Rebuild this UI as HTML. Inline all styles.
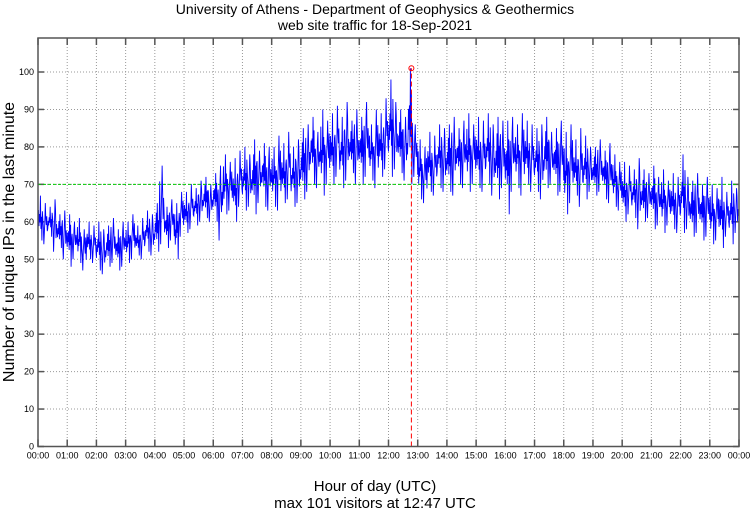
<!DOCTYPE html>
<html><head><meta charset="utf-8"><style>
body{margin:0;background:#fff;}
svg text{font-family:"Liberation Sans",sans-serif;}
</style></head><body>
<svg id="chart" width="750" height="511" viewBox="0 0 750 511">
<text x="375" y="14" font-size="14" text-anchor="middle">University of Athens - Department of Geophysics &amp; Geothermics</text>
<text x="375" y="30" font-size="14" text-anchor="middle">web site traffic for 18-Sep-2021</text>
<text x="375" y="491" font-size="15" text-anchor="middle">Hour of day (UTC)</text>
<text x="375" y="508" font-size="15" text-anchor="middle">max 101 visitors at 12:47 UTC</text>
<text transform="translate(14,242) rotate(-90)" font-size="16" text-anchor="middle">Number of unique IPs in the last minute</text>
<g id="grid"></g><g id="series"></g>
</svg>
<script>
const yTicks=[0,10,20,30,40,50,60,70,80,90,100];
const xTickLabels=["00:00","01:00","02:00","03:00","04:00","05:00","06:00","07:00","08:00","09:00","10:00","11:00","12:00","13:00","14:00","15:00","16:00","17:00","18:00","19:00","20:00","21:00","22:00","23:00","00:00"];
const hiVals=[67,65,64,66,62,63, 62,60,61,58,60,59, 60,58,59,61,58,60, 60,62,59,61,63,62, 65,75,64,66,65,68, 68,70,69,71,72,70, 73,75,78,76,77,79, 80,78,82,79,81,80, 80,83,81,84,80,82, 85,86,88,84,90,87, 89,91,88,92,87,90, 88,92,86,90,89,93, 98,92,90,88,101,86, 82,80,84,83,86,85, 86,88,85,87,89,86, 88,87,89,86,88,87, 87,88,86,89,87,86, 85,86,88,84,85,87, 84,86,82,85,83,80, 80,82,79,81,78,76, 76,75,74,77,74,73, 75,72,74,71,73,72, 78,72,71,73,70,72, 70,69,72,68,71,69];
const loVals=[55,54,56,52,53,50, 48,50,49,47,50,49, 47,46,48,49,47,48, 49,50,51,50,52,51, 52,54,53,55,50,56, 57,58,59,60,61,60, 60,55,62,63,60,64, 63,64,62,65,64,63, 64,63,65,66,64,65, 66,68,70,69,67,70, 70,72,69,71,73,70, 70,72,71,69,72,74, 72,74,73,71,70,72, 66,65,68,67,69,68, 68,67,70,69,68,70, 69,68,70,67,66,69, 62,68,69,67,70,68, 68,66,69,70,67,68, 62,65,67,64,66,68, 67,68,66,65,64,63, 60,62,61,58,60,61, 58,59,57,59,58,57, 57,58,56,57,55,56, 54,55,53,56,54,57];
const refLevel=70;
const maxValue=101, maxMinute=12*60+47;
const X0=38,X1=739,Y0=446.5,YT=38;
const xs=m=>X0+(X1-X0)*m/1440;
const ys=v=>Y0-v*3.745;
const NS="http://www.w3.org/2000/svg";
function mk(tag,attrs,parent){const e=document.createElementNS(NS,tag);for(const k in attrs)e.setAttribute(k,attrs[k]);parent.appendChild(e);return e;}
const grid=document.getElementById('grid'),ser=document.getElementById('series');
yTicks.forEach(v=>{const y=ys(v);
 if(v>0){const l=mk('line',{x1:X0,x2:X1,y1:y,y2:y,stroke:'#999','stroke-dasharray':'1,2','stroke-width':1},grid);
 
 }
 mk('line',{x1:X0,x2:X0+6,y1:y,y2:y,stroke:'#555','stroke-width':1.5},grid);
 mk('line',{x1:X1-6,x2:X1,y1:y,y2:y,stroke:'#555','stroke-width':1.5},grid);
 const t=mk('text',{x:X0-4,y:y+3,'font-size':9,'text-anchor':'end'},grid);t.textContent=v;
 
 });
xTickLabels.forEach((s,i)=>{const x=xs(i*60);
 if(i>0&&i<24){const l=mk('line',{x1:x,x2:x,y1:YT,y2:Y0,stroke:'#999','stroke-dasharray':'1,2','stroke-width':1},grid);
 
 }
 mk('line',{x1:x,x2:x,y1:Y0,y2:Y0-7,stroke:'#555','stroke-width':1.5},grid);
 mk('line',{x1:x,x2:x,y1:YT,y2:YT+7,stroke:'#555','stroke-width':1.5},grid);
 const t=mk('text',{x:x,y:Y0+12,'font-size':9,'text-anchor':'middle'},grid);t.textContent=s;
 
 });
// within each 10-minute bucket, the line wanders between that bucket's low and high
const shape=[0.45,0.8,0.2,0.65,0.35,1,0.1,0.55,0.3,0.75];
let pts=[];
hiVals.forEach((h,i)=>{const lo=loVals[i];
 for(let k=0;k<10;k++){const f=shape[(k+i*3)%10];
  const v=(k===5)?h:(k===(i%2?2:8))?lo:lo+(h-lo)*(0.2+0.6*f);
  pts.push(xs(i*10+k)+','+ys(v));}});
const pl=mk('polyline',{points:pts.join(' '),fill:'none',stroke:'#0000ff','stroke-width':0.9},ser);


const g=mk('line',{x1:X0,x2:X1,y1:ys(refLevel),y2:ys(refLevel),stroke:'#00cc00','stroke-dasharray':'3,2','stroke-width':1},ser);


const r=mk('line',{x1:xs(maxMinute),x2:xs(maxMinute),y1:Y0,y2:ys(maxValue),stroke:'#ff0000','stroke-dasharray':'5,3','stroke-width':1},ser);


const c=mk('circle',{cx:xs(maxMinute),cy:ys(maxValue),r:2.5,fill:'none',stroke:'#ff0000','stroke-width':1},ser);


const fr=mk('rect',{x:X0,y:YT,width:X1-X0,height:Y0-YT,fill:'none',stroke:'#555','stroke-width':1.5},ser);


</script>
</body></html>
